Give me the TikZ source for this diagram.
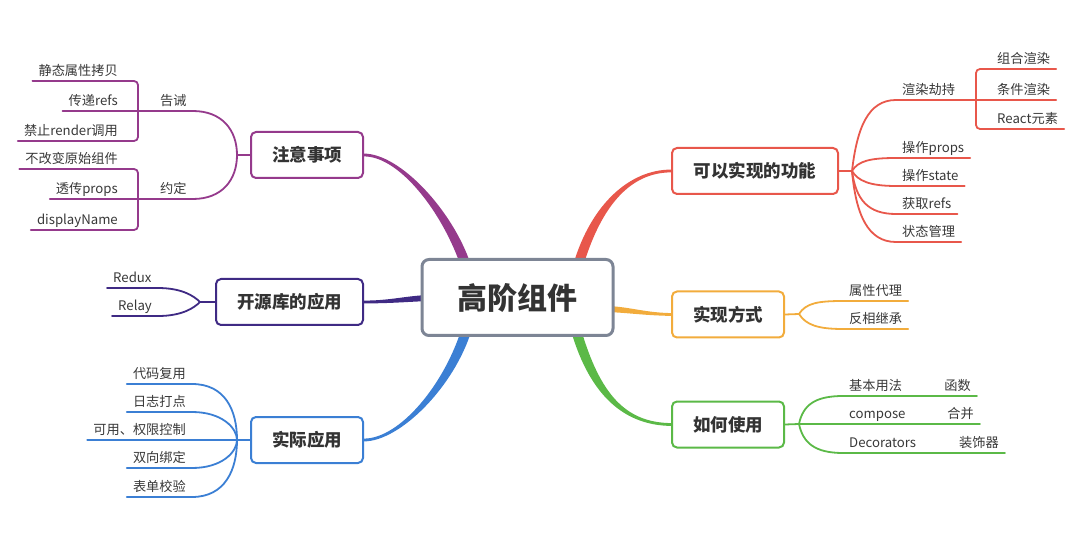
\documentclass[tikz,border=0pt]{standalone}
\usepackage{fontspec}
\setmainfont{Noto Sans CJK SC}
\usepackage{xcolor}
\usetikzlibrary{calc,backgrounds}
\definecolor{txt}{HTML}{333333}
\definecolor{lftxt}{HTML}{383838}
\definecolor{hocc}{HTML}{7D8595}
\definecolor{zyc}{HTML}{953A8C}
\definecolor{kyc}{HTML}{3F2A84}
\definecolor{sjc}{HTML}{3B7FD4}
\definecolor{knc}{HTML}{E8574B}
\definecolor{sfc}{HTML}{F2AC3C}
\definecolor{rhc}{HTML}{5BB947}
\tikzstyle{root}=[draw=hocc, line width=3pt, rounded corners=7pt, fill=white, minimum width=191pt, minimum height=76pt, font=\fontsize{30}{36}\selectfont\bfseries, text=txt]
\tikzstyle{topic}=[line width=2pt, rounded corners=5pt, fill=white, minimum width=112pt, minimum height=46pt, font=\fontsize{17.5}{21}\selectfont\bfseries, text=txt]
\tikzstyle{leaf}=[inner xsep=6pt, inner ysep=3pt, text height=10pt, text depth=2pt, font=\fontsize{13.2}{15}\selectfont, text=lftxt]
\tikzstyle{sub}=[line width=1.8pt, line cap=round]
\newcommand{\branch}[7]{
 \fill[#1] ($#2!#6!90:#3$) .. controls ($#3!#6!-90:#2$) and ($#4!#7!90:#5$) .. ($#5!#7!-90:#4$)
  -- ($#5!#7!90:#4$) .. controls ($#4!#7!-90:#5$) and ($#3!#6!90:#2$) .. ($#2!#6!-90:#3$) -- cycle;
}
\begin{document}
\begin{tikzpicture}[x=1pt,y=-1pt]
 \useasboundingbox (0,0) rectangle (1080,548);
 \node[root] (hoc) at (517.5,297.5) {高阶组件};
%
 \node[topic, draw=zyc, anchor=east] (zy) at (364,155) {注意事项};
 \node[topic, draw=kyc, anchor=east, minimum width=147pt] (ky) at (364,302) {开源库的应用};
 \node[topic, draw=sjc, anchor=east] (sj) at (364,440) {实际应用};
 \node[topic, draw=knc, anchor=west, minimum width=166pt] (kn) at (671,171) {可以实现的功能};
 \node[topic, draw=sfc, anchor=west] (sf) at (671,314.5) {实现方式};
 \node[topic, draw=rhc, anchor=west] (rh) at (671,424.5) {如何使用};
%
 \coordinate (hZY) at (466,266);
 \coordinate (hKY) at (428,298);
 \coordinate (hSJ) at (467,328);
 \coordinate (hKN) at (578,266);
 \coordinate (hSF) at (608,309);
 \coordinate (hRH) at (576,330);
 \begin{scope}[on background layer]
  \branch{zyc}{(zy.east)}{(400,155)}{(448,212)}{(hZY)}{1.4pt}{5pt}
  \branch{kyc}{(ky.east)}{(390,302)}{(405,299)}{(hKY)}{1.4pt}{3pt}
  \branch{sjc}{(sj.east)}{(400,440)}{(450,385)}{(hSJ)}{1.4pt}{5pt}
  \branch{knc}{(kn.west)}{(630,171)}{(596,205)}{(hKN)}{1.4pt}{5pt}
  \branch{sfc}{(sf.west)}{(645,314)}{(630,310)}{(hSF)}{1.4pt}{3pt}
  \branch{rhc}{(rh.west)}{(625,424)}{(595,395)}{(hRH)}{1.4pt}{5pt}
 \end{scope}
%
 \node[leaf, anchor=south east] (jt) at (124,81) {静态属性拷贝};
 \node[leaf, anchor=south east] (cd) at (124,111) {传递refs};
 \node[leaf, anchor=south east] (jz) at (124,141) {禁止render调用};
 \node[leaf, anchor=south east] (bg) at (124,169) {不改变原始组件};
 \node[leaf, anchor=south east] (tc) at (124,199) {透传props};
 \node[leaf, anchor=south east] (dn) at (124,230) {displayName};
 \node[leaf, anchor=south west] (gj) at (154,111) {告诫};
 \node[leaf, anchor=south west] (yd) at (154,199) {约定};
 \coordinate (zyF) at (237,155);
 \coordinate (gjB) at (138,111);
 \coordinate (ydB) at (138,199);
 \draw[sub, zyc, rounded corners=4pt] (jt.south west) -| (gjB) |- (jz.south west);
 \draw[sub, zyc, rounded corners=4pt] (bg.south west) -| (ydB) |- (dn.south west);
 \draw[sub, zyc] (cd.south west) -- (gj.south east) .. controls (222,111) and (237,130) .. (zyF) -- (zy.west);
 \draw[sub, zyc] (tc.south west) -- (yd.south east) .. controls (222,199) and (237,180) .. (zyF);
%
 \node[leaf, anchor=south west] (rd) at (107,288) {Redux};
 \node[leaf, anchor=south west] (rl) at (112,316) {Relay};
 \coordinate (kyF) at (200,302);
 \draw[sub, kyc] (rd.south west) -- (rd.south east) .. controls (182,288) and (194,296) .. (kyF) -- (ky.west);
 \draw[sub, kyc] (rl.south west) -- (rl.south east) .. controls (182,316) and (194,308) .. (kyF);
%
 \node[leaf, anchor=south east] (dm) at (192,384) {代码复用};
 \node[leaf, anchor=south east] (rz) at (192,412) {日志打点};
 \node[leaf, anchor=south east] (qx) at (192,440) {可用、权限控制};
 \node[leaf, anchor=south east] (sxbd) at (192,468) {双向绑定};
 \node[leaf, anchor=south east] (bd) at (192,497) {表单校验};
 \coordinate (sjF) at (237,440);
 \draw[sub, sjc] (qx.south west) -- (sjF) -- (sj.west);
 \draw[sub, sjc] (dm.south west) -- (dm.south east) .. controls (225,384) and (237,410) .. (sjF);
 \draw[sub, sjc] (rz.south west) -- (rz.south east) .. controls (222,412) and (237,428) .. (sjF);
 \draw[sub, sjc] (sxbd.south west) -- (sxbd.south east) .. controls (222,468) and (237,452) .. (sjF);
 \draw[sub, sjc] (bd.south west) -- (bd.south east) .. controls (225,497) and (237,470) .. (sjF);
%
 \node[leaf, anchor=south west] (xr) at (896,100) {渲染劫持};
 \node[leaf, anchor=south west] (zh) at (991,69) {组合渲染};
 \node[leaf, anchor=south west] (tj) at (991,100) {条件渲染};
 \node[leaf, anchor=south west] (re) at (991,129) {React元素};
 \node[leaf, anchor=south west] (cp) at (896,158) {操作props};
 \node[leaf, anchor=south west] (cs) at (896,186) {操作state};
 \node[leaf, anchor=south west] (hq) at (896,214) {获取refs};
 \node[leaf, anchor=south west] (zt) at (896,242) {状态管理};
 \coordinate (knF) at (852,171);
 \coordinate (xrB) at (976,100);
 \draw[sub, knc] (kn.east) -- (knF) .. controls (857,128) and (868,100) .. (xr.south west) -- (xrB) -- (tj.south east);
 \draw[sub, knc, rounded corners=4pt] (zh.south east) -| (xrB) |- (re.south east);
 \draw[sub, knc] (knF) .. controls (858,161) and (870,158) .. (cp.south west) -- (cp.south east);
 \draw[sub, knc] (knF) .. controls (858,181) and (870,186) .. (cs.south west) -- (cs.south east);
 \draw[sub, knc] (knF) .. controls (856,200) and (868,214) .. (hq.south west) -- (hq.south east);
 \draw[sub, knc] (knF) .. controls (856,215) and (868,242) .. (zt.south west) -- (zt.south east);
%
 \node[leaf, anchor=south west] (sxdl) at (843,301) {属性代理};
 \node[leaf, anchor=south west] (fxjc) at (843,329) {反相继承};
 \coordinate (sfF) at (799,314);
 \draw[sub, sfc] (sf.east) -- (sfF) .. controls (806,303) and (818,301) .. (sxdl.south west) -- (sxdl.south east);
 \draw[sub, sfc] (sfF) .. controls (806,325) and (818,329) .. (fxjc.south west) -- (fxjc.south east);
%
 \node[leaf, anchor=south west] (jb) at (843,396) {基本用法};
 \node[leaf, anchor=south east] (hs) at (977,396) {函数};
 \node[leaf, anchor=south west] (cm) at (843,424) {compose};
 \node[leaf, anchor=south east] (hb) at (980,424) {合并};
 \node[leaf, anchor=south west] (dc) at (843,453) {Decorators};
 \node[leaf, anchor=south east] (zs) at (1005,453) {装饰器};
 \coordinate (rhF) at (799,424);
 \draw[sub, rhc] (rh.east) -- (rhF) -- (cm.south west) -- (hb.south east);
 \draw[sub, rhc] (rhF) .. controls (803,405) and (815,396) .. (jb.south west) -- (hs.south east);
 \draw[sub, rhc] (rhF) .. controls (803,443) and (815,453) .. (dc.south west) -- (zs.south east);
\end{tikzpicture}
\end{document}
